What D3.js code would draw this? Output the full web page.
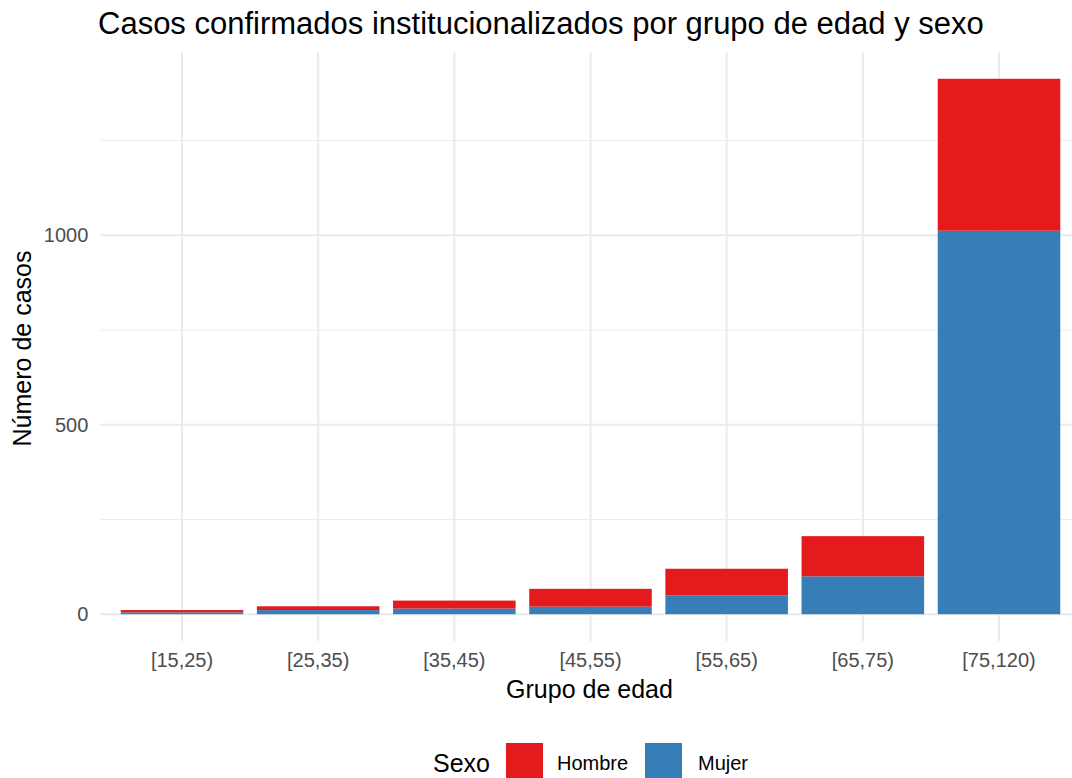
<!DOCTYPE html>
<html>
<head>
<meta charset="utf-8">
<script src="https://cdn.jsdelivr.net/npm/d3@7"></script>
<style>
    body { margin: 0; background: #fff; }
    svg { display: block; font-family: "Liberation Sans", Arial, sans-serif; }
</style>
</head>
<body>
<svg id="chart"></svg>
<script>
    const groups = ["[15,25)", "[25,35)", "[35,45)", "[45,55)", "[55,65)", "[65,75)", "[75,120)"];
    const mujer = [5, 11, 15, 20, 50, 100, 1012];
    const hombre = [6, 10, 21, 47, 70, 106, 401];
    const sexes = ["Hombre", "Mujer"];
    const colors = ["#E41A1C", "#377EB8"];
    const yTicks = [0, 500, 1000];
    const yMinor = [250, 750, 1250];

    const width = 1072, height = 778;
    const panel = {left: 100.3, right: 1080.7, top: 52, bottom: 641};

    const svg = d3.select("#chart")
        .attr("width", width)
        .attr("height", height);

    const rows = groups.map((g, i) => ({group: g, Mujer: mujer[i], Hombre: hombre[i]}));
    const maxTotal = d3.max(rows, d => d.Mujer + d.Hombre);
    const pad = maxTotal * 0.05;

    const x = d3.scaleBand()
        .domain(groups)
        .range([panel.left, panel.right])
        .paddingInner(0.1)
        .paddingOuter(0.15);

    const y = d3.scaleLinear()
        .domain([-pad, maxTotal + pad])
        .range([panel.bottom, panel.top]);

    // grid
    const grid = svg.append("g");
    grid.selectAll(".minor")
        .data(yMinor)
        .enter()
        .append("line")
        .attr("x1", panel.left).attr("x2", width)
        .attr("y1", d => y(d)).attr("y2", d => y(d))
        .attr("stroke", "#ebebeb").attr("stroke-width", 1);
    grid.selectAll(".major")
        .data(yTicks)
        .enter()
        .append("line")
        .attr("x1", panel.left).attr("x2", width)
        .attr("y1", d => y(d)).attr("y2", d => y(d))
        .attr("stroke", "#ebebeb").attr("stroke-width", 2);
    grid.selectAll(".vmajor")
        .data(groups)
        .enter()
        .append("line")
        .attr("x1", d => x(d) + x.bandwidth() / 2).attr("x2", d => x(d) + x.bandwidth() / 2)
        .attr("y1", panel.top).attr("y2", panel.bottom)
        .attr("stroke", "#ebebeb").attr("stroke-width", 2);

    // stacked bars, Mujer at the bottom
    const stack = d3.stack().keys(["Mujer", "Hombre"]);
    const series = stack(rows);
    const color = d3.scaleOrdinal().domain(sexes).range(colors);

    svg.append("g")
        .selectAll("g")
        .data(series)
        .enter()
        .append("g")
        .attr("fill", s => color(s.key))
        .selectAll("rect")
        .data(s => s)
        .enter()
        .append("rect")
        .attr("x", d => x(d.data.group))
        .attr("width", x.bandwidth())
        .attr("y", d => y(d[1]))
        .attr("height", d => y(d[0]) - y(d[1]));

    // axes (no lines, only labels)
    const yAxis = svg.append("g")
        .attr("transform", `translate(${panel.left - 12},0)`)
        .call(d3.axisLeft(y).tickValues(yTicks).tickFormat(d3.format("d")).tickSize(0).tickPadding(0));
    yAxis.select(".domain").remove();
    yAxis.selectAll("text")
        .attr("font-size", 20)
        .attr("font-family", "Liberation Sans, Arial, sans-serif")
        .attr("fill", "#4d4d4d");

    const xAxis = svg.append("g")
        .attr("transform", `translate(0,${panel.bottom + 8})`)
        .call(d3.axisBottom(x).tickSize(0).tickPadding(4));
    xAxis.select(".domain").remove();
    xAxis.selectAll("text")
        .attr("font-size", 20)
        .attr("font-family", "Liberation Sans, Arial, sans-serif")
        .attr("fill", "#4d4d4d");

    // titles
    svg.append("text")
        .attr("x", 98)
        .attr("y", 34)
        .attr("font-size", 31)
        .attr("fill", "#000")
        .text("Casos confirmados institucionalizados por grupo de edad y sexo");

    svg.append("text")
        .attr("x", (panel.left + panel.right) / 2 - 1)
        .attr("y", 698)
        .attr("text-anchor", "middle")
        .attr("font-size", 25)
        .attr("fill", "#000")
        .text("Grupo de edad");

    svg.append("text")
        .attr("transform", `translate(31,${(panel.top + panel.bottom) / 2 + 2}) rotate(-90)`)
        .attr("text-anchor", "middle")
        .attr("font-size", 25)
        .attr("fill", "#000")
        .text("Número de casos");

    // legend
    const legend = svg.append("g");
    legend.append("text")
        .attr("x", 433)
        .attr("y", 772)
        .attr("font-size", 25)
        .attr("fill", "#000")
        .text("Sexo");

    const keyX = [506, 645];
    const labelX = [557, 698];
    sexes.forEach((s, i) => {
        legend.append("rect")
            .attr("x", keyX[i])
            .attr("y", 743)
            .attr("width", 37)
            .attr("height", 37)
            .attr("fill", color(s));
        legend.append("text")
            .attr("x", labelX[i])
            .attr("y", 770)
            .attr("font-size", 20)
            .attr("fill", "#000")
            .text(s);
    });
</script>
</body>
</html>
